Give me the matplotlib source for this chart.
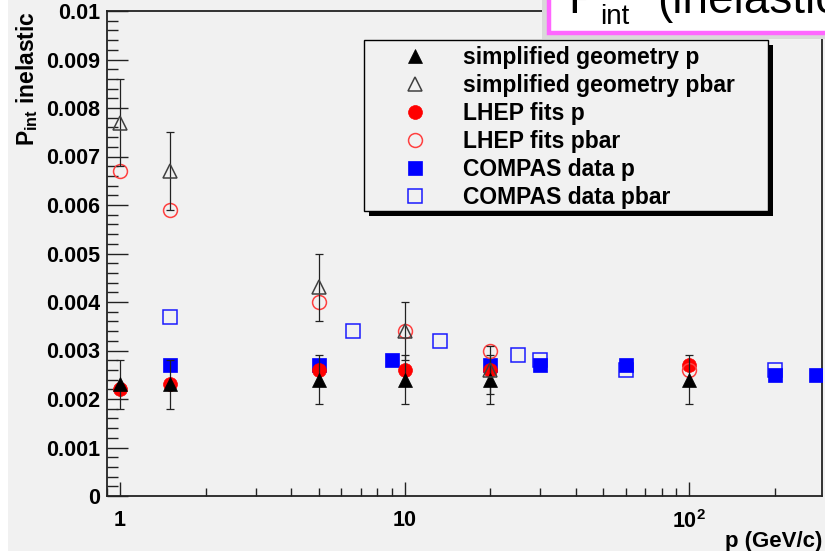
import matplotlib
matplotlib.use('Agg')
import matplotlib.pyplot as plt
from matplotlib.patches import Rectangle
import matplotlib.ticker as mticker

plt.rcParams['font.family'] = ['Liberation Sans', 'DejaVu Sans']
plt.rcParams['mathtext.fontset'] = 'custom'
plt.rcParams['mathtext.rm'] = 'Liberation Sans'
plt.rcParams['mathtext.bf'] = 'Liberation Sans:bold'
plt.rcParams['mathtext.it'] = 'Liberation Sans:italic'

# ---------------- data ----------------
geo_p_x = [1, 1.5, 5, 10, 20, 100]
geo_p_y = [0.0023, 0.0023, 0.0024, 0.0024, 0.0024, 0.0024]
geo_p_err = [0.0005, 0.0005, 0.0005, 0.0005, 0.0005, 0.0005]

geo_pbar_x = [1, 1.5, 5, 10, 20]
geo_pbar_y = [0.0077, 0.0067, 0.0043, 0.0034, 0.0026]
geo_pbar_err = [0.0009, 0.0008, 0.0007, 0.0006, 0.0005]

lhep_p_x = [1, 1.5, 5, 10, 20, 100]
lhep_p_y = [0.0022, 0.0023, 0.0026, 0.0026, 0.0026, 0.0027]

lhep_pbar_x = [1, 1.5, 5, 10, 20, 100]
lhep_pbar_y = [0.0067, 0.0059, 0.0040, 0.0034, 0.0030, 0.0026]

compas_p_x = [1.5, 5, 9, 20, 30, 60, 200, 280]
compas_p_y = [0.0027, 0.0027, 0.0028, 0.0027, 0.0027, 0.0027, 0.0025, 0.0025]

compas_pbar_x = [1.5, 6.6, 13.3, 25, 30, 60, 200]
compas_pbar_y = [0.0037, 0.0034, 0.0032, 0.0029, 0.0028, 0.0026, 0.0026]

labels = ["simplified geometry p", "simplified geometry pbar",
          "LHEP fits p", "LHEP fits pbar",
          "COMPAS data p", "COMPAS data pbar"]

x_ticks = [1, 10, 100]
x_ticklabels = ['1', '10', r'$\mathbf{10^{2}}$']
y_ticks = [0, 0.001, 0.002, 0.003, 0.004, 0.005, 0.006, 0.007, 0.008, 0.009, 0.01]
y_ticklabels = ['0', '0.001', '0.002', '0.003', '0.004', '0.005', '0.006',
                '0.007', '0.008', '0.009', '0.01']

# ---------------- figure ----------------
W, H = 825, 551
BG = '#f1f1f1'
fig = plt.figure(figsize=(W / 100, H / 100), dpi=100, facecolor='white')
fig.patches.append(Rectangle((8 / W, 0), 1, 1, transform=fig.transFigure,
                             facecolor=BG, edgecolor='none', zorder=-10))

L, R, T, B = 107, 822, 11, 496
ax = fig.add_axes([L / W, (H - B) / H, (R - L) / W, (B - T) / H])
ax.set_facecolor(BG)
ax.set_xscale('log')
ax.set_xlim(0.9, 293)
ax.set_ylim(0, 0.01)

ms = 10
h_cps = ax.plot(compas_pbar_x, compas_pbar_y, ls='none', marker='s', ms=ms,
                mfc='none', mec='#1a1aff', mew=1.1, zorder=3)[0]
h_cp = ax.plot(compas_p_x, compas_p_y, ls='none', marker='s', ms=ms,
               mfc='#0000ff', mec='#0000ff', mew=0.5, zorder=4)[0]
h_lp = ax.plot(lhep_p_x, lhep_p_y, ls='none', marker='o', ms=ms,
               mfc='#ff0000', mec='#ff0000', mew=0.5, zorder=5)[0]
h_lpb = ax.plot(lhep_pbar_x, lhep_pbar_y, ls='none', marker='o', ms=ms,
                mfc='none', mec='#ff4040', mew=1.1, zorder=6)[0]
ax.errorbar(geo_p_x, geo_p_y, yerr=geo_p_err, fmt='none', ecolor='#222222',
            elinewidth=0.9, capsize=2.8, capthick=0.9, zorder=7)
ax.errorbar(geo_pbar_x, geo_pbar_y, yerr=geo_pbar_err, fmt='none',
            ecolor='#222222', elinewidth=0.9, capsize=2.8, capthick=0.9, zorder=7)
h_gp = ax.plot(geo_p_x, geo_p_y, ls='none', marker='^', ms=ms,
               mfc='black', mec='black', mew=0.5, zorder=8)[0]
h_gpb = ax.plot(geo_pbar_x, geo_pbar_y, ls='none', marker='^', ms=ms,
                mfc='none', mec='#404040', mew=1.1, zorder=8)[0]

# axes styling
for s in ax.spines.values():
    s.set_color('#222222')
    s.set_linewidth(1.3)

ax.set_xticks(x_ticks)
ax.set_xticklabels(x_ticklabels)
ax.xaxis.set_minor_locator(mticker.LogLocator(base=10, subs=[2, 3, 4, 5, 6, 7, 8, 9], numticks=20))
ax.xaxis.set_minor_formatter(mticker.NullFormatter())
ax.set_yticks(y_ticks)
ax.set_yticklabels(y_ticklabels)
ax.yaxis.set_minor_locator(mticker.MultipleLocator(0.0002))

ax.tick_params(axis='both', which='both', direction='in', colors='#222222',
               top=False, right=False, width=1.0)
ax.tick_params(axis='y', which='major', length=15, pad=5, labelsize=15.5,
               labelcolor='black')
ax.tick_params(axis='y', which='minor', length=8)
ax.tick_params(axis='x', which='major', length=10, pad=10, labelsize=15.5,
               labelcolor='black')
ax.tick_params(axis='x', which='minor', length=6)
for lab in ax.get_xticklabels() + ax.get_yticklabels():
    lab.set_fontweight('bold')

ax.set_ylabel(r'$\mathbf{P_{int}}$ inelastic', fontsize=16.5, fontweight='bold',
              loc='top')
ax.yaxis.set_label_coords(-0.094, 1.0)
ax.set_xlabel('p (GeV/c)', fontsize=16, fontweight='bold', loc='right',
              va='top')
ax.xaxis.set_label_coords(1.0, -0.072)

# legend frame + shadow (axes fraction)
lx0, lx1 = (364 - L) / (R - L), (768 - L) / (R - L)
ly0, ly1 = (B - 211) / (B - T), (B - 40) / (B - T)
sdx, sdy = 5 / (R - L), 5 / (B - T)
ax.add_patch(Rectangle((lx0 + sdx, ly0 - sdy), lx1 - lx0, ly1 - ly0,
                       transform=ax.transAxes, facecolor='black',
                       edgecolor='none', zorder=9))
ax.add_patch(Rectangle((lx0, ly0), lx1 - lx0, ly1 - ly0,
                       transform=ax.transAxes, facecolor=BG,
                       edgecolor='black', linewidth=1.0, zorder=10))
leg = ax.legend([h_gp, h_gpb, h_lp, h_lpb, h_cp, h_cps], labels,
                loc='upper left',
                bbox_to_anchor=((392 - L) / (R - L), (B - 46) / (B - T)),
                frameon=False, borderpad=0, borderaxespad=0,
                handlelength=2.0, handletextpad=1.1, labelspacing=0.22,
                prop={'weight': 'bold', 'size': 16.5}, markerscale=1.0)
leg.set_zorder(11)

# title overlay box (top right)
def fx(px):
    return px / W

def fy(py):
    return (H - py) / H

fig.patches.append(Rectangle((fx(542), fy(39)), 0.5, 0.2, transform=fig.transFigure,
                             facecolor='#d9d9d9', edgecolor='none', zorder=20))
fig.patches.append(Rectangle((fx(549), fy(33)), 0.5, 0.2, transform=fig.transFigure,
                             facecolor='white', edgecolor='#ff66ff',
                             linewidth=3.2, zorder=21))
fig.text(fx(568), fy(13), 'P', fontsize=33, color='black', ha='left',
         va='baseline', zorder=22)
fig.text(fx(600), fy(24), 'int', fontsize=20, color='black', ha='left',
         va='baseline', zorder=22)
fig.text(fx(657), fy(13), '(inelastic', fontsize=33, color='black', ha='left',
         va='baseline', zorder=22)

fig.savefig('out.png', dpi=100, facecolor=fig.get_facecolor())
